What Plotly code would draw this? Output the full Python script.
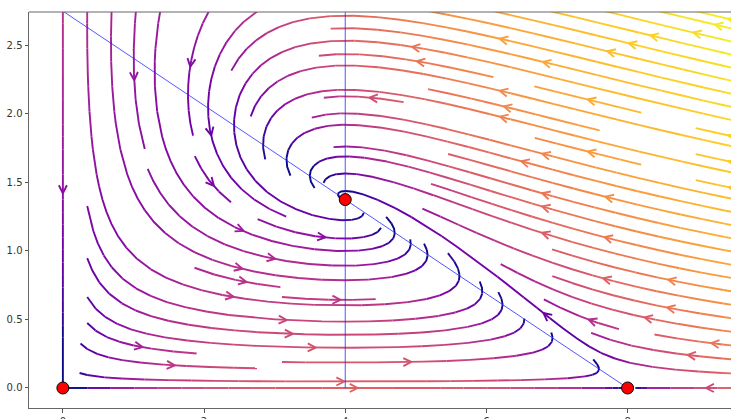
import numpy as np
import plotly.graph_objects as go
from plotly.colors import sample_colorscale

# ---------------- data ----------------
prey_growth = 1.1
carrying_capacity = 8.0
predation_rate = 0.4
predator_death = 0.4
conversion_rate = 0.1

grid_x_limits = [0.0, 10.0]
grid_y_limits = [0.0, 2.75]
grid_points = [60, 60]

equilibrium_x = [0.0, 8.0, 4.0]
equilibrium_y = [0.0, 0.0, 1.375]
prey_nullcline_x = [0.0, 8.0]
prey_nullcline_y = [2.75, 0.0]
predator_nullcline_x = [4.0, 4.0]
predator_nullcline_y = [0.0, 2.75]

x_tick_values = [0, 2, 4, 6, 8]
x_tick_labels = ["0", "2", "4", "6", "8"]
y_tick_values = [0.0, 0.5, 1.0, 1.5, 2.0, 2.5]
y_tick_labels = ["0.0", "0.5", "1.0", "1.5", "2.0", "2.5"]

x_view = [-0.48, 9.465]
y_view = [-0.146, 2.744]
stream_density = 1.0
speed_floor_ratio = 0.012

# ---------------- layout geometry ----------------
W, H = 731, 419
M_L, M_R, M_T, M_B = 29, 0, 12, 11
plot_w = W - M_L - M_R
plot_h = H - M_T - M_B
sx = plot_w / (x_view[1] - x_view[0])
sy = plot_h / (y_view[1] - y_view[0])


def field(X, Y):
    U = prey_growth * X * (1 - X / carrying_capacity) - predation_rate * X * Y
    V = -predator_death * Y + conversion_rate * X * Y
    return U, V


# ---------------- matplotlib-like streamplot ----------------
class _OOB(IndexError):
    pass


class _Invalid(Exception):
    pass


class _Term(Exception):
    pass


def interpgrid(a, xi, yi):
    Ny, Nx = a.shape
    if isinstance(xi, np.ndarray):
        x = xi.astype(int)
        y = yi.astype(int)
        xn = np.clip(x + 1, 0, Nx - 1)
        yn = np.clip(y + 1, 0, Ny - 1)
    else:
        x = int(xi)
        y = int(yi)
        xn = x if x == Nx - 1 else x + 1
        yn = y if y == Ny - 1 else y + 1
    a00 = a[y, x]
    a01 = a[y, xn]
    a10 = a[yn, x]
    a11 = a[yn, xn]
    xt = xi - x
    yt = yi - y
    a0 = a00 * (1 - xt) + a01 * xt
    a1 = a10 * (1 - xt) + a11 * xt
    return a0 * (1 - yt) + a1 * yt


def gen_starting_points(shape):
    ny, nx = shape
    xfirst, yfirst, xlast, ylast = 0, 1, nx - 1, ny - 1
    x, y = 0, 0
    direction = 'right'
    for _ in range(nx * ny):
        yield x, y
        if direction == 'right':
            x += 1
            if x >= xlast:
                xlast -= 1
                direction = 'up'
        elif direction == 'up':
            y += 1
            if y >= ylast:
                ylast -= 1
                direction = 'left'
        elif direction == 'left':
            x -= 1
            if x <= xfirst:
                xfirst += 1
                direction = 'down'
        elif direction == 'down':
            y -= 1
            if y <= yfirst:
                yfirst += 1
                direction = 'right'


def compute_streamlines(xs, ys, U, V, density, minlength=0.1, maxlength=4.0):
    nxg, nyg = len(xs), len(ys)
    dxg = xs[1] - xs[0]
    dyg = ys[1] - ys[0]
    mnx = mny = int(30 * density)
    mask = np.zeros((mny, mnx))
    state = {'cur': None, 'traj': []}
    x_g2m = (mnx - 1) / (nxg - 1)
    y_g2m = (mny - 1) / (nyg - 1)

    def within(xi, yi):
        return 0 <= xi <= nxg - 1 and 0 <= yi <= nyg - 1

    def g2m(xi, yi):
        return int(round(xi * x_g2m)), int(round(yi * y_g2m))

    def update(xm, ym):
        if state['cur'] != (xm, ym):
            if mask[ym, xm] == 0:
                state['traj'].append((ym, xm))
                mask[ym, xm] = 1
                state['cur'] = (xm, ym)
            else:
                raise _Invalid

    def start(xg, yg):
        xm, ym = g2m(xg, yg)
        state['traj'] = []
        update(xm, ym)

    def reset(xg, yg):
        state['cur'] = g2m(xg, yg)

    def update_traj(xg, yg):
        if not within(xg, yg):
            raise _Invalid
        xm, ym = g2m(xg, yg)
        update(xm, ym)

    def undo():
        for t in state['traj']:
            mask[t] = 0

    Ug = U / dxg
    Vg = V / dyg
    speed = np.sqrt((Ug / (nxg - 1)) ** 2 + (Vg / (nyg - 1)) ** 2)

    def fwd(xi, yi):
        if not within(xi, yi):
            raise _OOB
        ds_dt = interpgrid(speed, xi, yi)
        if ds_dt == 0:
            raise _Term
        dt_ds = 1.0 / ds_dt
        return interpgrid(Ug, xi, yi) * dt_ds, interpgrid(Vg, xi, yi) * dt_ds

    def bwd(xi, yi):
        a_, b_ = fwd(xi, yi)
        return -a_, -b_

    def euler(traj, f):
        xi, yi = traj[-1]
        try:
            cx, cy = f(xi, yi)
        except (_Term, _OOB):
            return 0.0, traj
        if cx == 0:
            dsx = np.inf
        elif cx < 0:
            dsx = xi / -cx
        else:
            dsx = (nxg - 1 - xi) / cx
        if cy == 0:
            dsy = np.inf
        elif cy < 0:
            dsy = yi / -cy
        else:
            dsy = (nyg - 1 - yi) / cy
        ds = min(dsx, dsy)
        traj.append((xi + cx * ds, yi + cy * ds))
        return ds, traj

    maxerror = 0.003
    maxds = min(1.0 / mnx, 1.0 / mny, 0.1)

    def rk12(x0, y0, f):
        ds = maxds
        stotal = 0.0
        xi, yi = x0, y0
        traj = []
        while True:
            try:
                if within(xi, yi):
                    traj.append((xi, yi))
                else:
                    raise _OOB
                k1x, k1y = f(xi, yi)
                k2x, k2y = f(xi + ds * k1x, yi + ds * k1y)
            except _OOB:
                if traj:
                    d_, traj = euler(traj, f)
                    stotal += d_
                break
            except _Term:
                break
            dx1 = ds * k1x
            dy1 = ds * k1y
            dx2 = ds * 0.5 * (k1x + k2x)
            dy2 = ds * 0.5 * (k1y + k2y)
            error = np.hypot((dx2 - dx1) / (nxg - 1), (dy2 - dy1) / (nyg - 1))
            if error < maxerror:
                xi += dx2
                yi += dy2
                try:
                    update_traj(xi, yi)
                except _Invalid:
                    break
                if stotal + ds > maxlength:
                    break
                stotal += ds
            if error == 0:
                ds = maxds
            else:
                ds = min(maxds, 0.85 * ds * (maxerror / error) ** 0.5)
        return stotal, traj

    def integrate(x0, y0):
        stotal = 0.0
        xy = []
        try:
            start(x0, y0)
        except _Invalid:
            return None
        s, t = rk12(x0, y0, bwd)
        stotal += s
        xy += t[::-1]
        reset(x0, y0)
        s, t = rk12(x0, y0, fwd)
        stotal += s
        xy += t[1:]
        if stotal > minlength:
            return np.array(xy)
        undo()
        return None

    trajs = []
    for xm, ym in gen_starting_points(mask.shape):
        if mask[ym, xm] == 0:
            xg, yg = xm / x_g2m, ym / y_g2m
            t = integrate(xg, yg)
            if t is not None and len(t) > 1:
                trajs.append(t)
    return trajs, dxg, dyg


# ---------------- compute field ----------------
xs = np.linspace(grid_x_limits[0], grid_x_limits[1], grid_points[0])
ys = np.linspace(grid_y_limits[0], grid_y_limits[1], grid_points[1])
XX, YY = np.meshgrid(xs, ys)
UU, VV = field(XX, YY)
spd = np.hypot(UU, VV)
rel = np.maximum(spd / spd.max(), 1e-12)
color_grid = np.clip((np.log(rel) - np.log(speed_floor_ratio)) / (-np.log(speed_floor_ratio)), 0, 1)

trajs, dxg, dyg = compute_streamlines(xs, ys, UU, VV, stream_density)

NB = 64
bin_colors = sample_colorscale('Plasma', [i / (NB - 1) for i in range(NB)])
line_x = [[] for _ in range(NB)]
line_y = [[] for _ in range(NB)]
arr_x = [[] for _ in range(NB)]
arr_y = [[] for _ in range(NB)]

ARM = 9.0
ANG = np.arctan2(0.2, 0.4)

for t in trajs:
    tgx, tgy = t[:, 0], t[:, 1]
    tx = tgx * dxg + xs[0]
    ty = tgy * dyg + ys[0]
    cv = interpgrid(color_grid, tgx, tgy)[:-1]
    bins = np.clip(np.round(cv * (NB - 1)).astype(int), 0, NB - 1)
    nseg = len(tx) - 1
    i = 0
    while i < nseg:
        b = bins[i]
        j = i
        while j + 1 < nseg and bins[j + 1] == b:
            j += 1
        line_x[b].extend(list(tx[i:j + 2]) + [None])
        line_y[b].extend(list(ty[i:j + 2]) + [None])
        i = j + 1
    # arrow halfway along
    s = np.cumsum(np.hypot(np.diff(tx), np.diff(ty)))
    n = int(np.searchsorted(s, s[-1] / 2.0))
    n = min(n, len(tx) - 2)
    tailx, taily = tx[n], ty[n]
    headx, heady = np.mean(tx[n:n + 2]), np.mean(ty[n:n + 2])
    dpx = (headx - tailx) * sx
    dpy = (heady - taily) * sy
    nrm = np.hypot(dpx, dpy)
    if nrm == 0:
        continue
    ux, uy = -dpx / nrm, -dpy / nrm  # backwards direction
    pts = []
    for sgn in (1, -1):
        c, si = np.cos(ANG), np.sin(sgn * ANG)
        rx = ux * c - uy * si
        ry = ux * si + uy * c
        pts.append((headx + rx * ARM / sx, heady + ry * ARM / sy))
    b = bins[min(n, len(bins) - 1)]
    arr_x[b].extend([pts[0][0], headx, pts[1][0], None])
    arr_y[b].extend([pts[0][1], heady, pts[1][1], None])

fig = go.Figure()
for b in range(NB):
    if line_x[b]:
        fig.add_trace(go.Scatter(x=line_x[b], y=line_y[b], mode='lines',
                                 line=dict(color=bin_colors[b], width=1.9),
                                 hoverinfo='skip', showlegend=False))
for b in range(NB):
    if arr_x[b]:
        fig.add_trace(go.Scatter(x=arr_x[b], y=arr_y[b], mode='lines',
                                 line=dict(color=bin_colors[b], width=1.9),
                                 hoverinfo='skip', showlegend=False))

fig.add_trace(go.Scatter(x=prey_nullcline_x, y=prey_nullcline_y, mode='lines',
                         line=dict(color='rgba(30,30,255,0.85)', width=0.9),
                         hoverinfo='skip', showlegend=False))
fig.add_trace(go.Scatter(x=predator_nullcline_x, y=predator_nullcline_y, mode='lines',
                         line=dict(color='rgba(30,30,255,0.85)', width=0.9),
                         hoverinfo='skip', showlegend=False))
fig.add_trace(go.Scatter(x=equilibrium_x, y=equilibrium_y, mode='markers',
                         marker=dict(color='#ff0000', size=12, line=dict(color='#000000', width=1)),
                         hoverinfo='skip', showlegend=False))

axis_common = dict(showgrid=False, zeroline=False, showline=True, linecolor='#666666', linewidth=1,
                   ticks='outside', ticklen=3.5, tickwidth=0.8, tickcolor='#555555',
                   tickfont=dict(family='DejaVu Sans', size=10, color='#333333'))
fig.update_layout(
    width=W, height=H,
    margin=dict(l=M_L, r=M_R, t=M_T, b=M_B, autoexpand=False),
    plot_bgcolor='white', paper_bgcolor='white',
    xaxis=dict(range=x_view, tickvals=x_tick_values, ticktext=x_tick_labels, **axis_common),
    yaxis=dict(range=y_view, tickvals=y_tick_values, ticktext=y_tick_labels, **axis_common),
    shapes=[dict(type='line', xref='paper', yref='paper', x0=0, x1=1, y0=1, y1=1,
                 line=dict(color='#666666', width=1))],
)
fig.write_html("out.html", config={'displayModeBar': False},
               post_script="document.body.style.margin='0';document.body.style.overflow='hidden';")
